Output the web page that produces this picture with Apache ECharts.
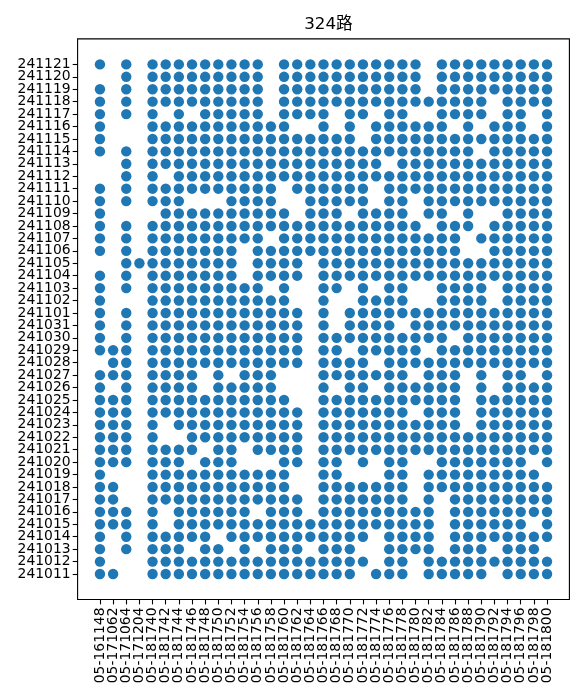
<!DOCTYPE html>
<html><head><meta charset="utf-8">
<script src="https://cdn.jsdelivr.net/npm/echarts@6/dist/echarts.min.js"></script>
<style>html,body{margin:0;padding:0;background:#fff}#c{width:583px;height:700px}</style>
</head><body><div id="c"></div>
<script>
const xLabels = ['05-161148','05-171062','05-171064','05-171204','05-181740','05-181742','05-181744','05-181746','05-181748','05-181750','05-181752','05-181754','05-181756','05-181758','05-181760','05-181762','05-181764','05-181766','05-181768','05-181770','05-181772','05-181774','05-181776','05-181778','05-181780','05-181782','05-181784','05-181786','05-181788','05-181790','05-181792','05-181794','05-181796','05-181798','05-181800'];
const yLabels = ['241011','241012','241013','241014','241015','241016','241017','241018','241019','241020','241021','241022','241023','241024','241025','241026','241027','241028','241029','241030','241031','241101','241102','241103','241104','241105','241106','241107','241108','241109','241110','241111','241112','241113','241114','241115','241116','241117','241118','241119','241120','241121'];
// one string per date (same order as yLabels), one character per vehicle (same order as xLabels); '1' = record present
const presence = [
  '11001111111111111111011101111101111', // 241011
  '10001111111111111111101101111111111', // 241012
  '10101110110101110111001111011101110', // 241013
  '10101111101111111111101111011111111', // 241014
  '11101011111111111111111111011111101', // 241015
  '11101011111101110111111111011111111', // 241016
  '11001111111111110111111101011111111', // 241017
  '11001111111111100111111101111111111', // 241018
  '10001111111111100110001101111111110', // 241019
  '11101110111000110110101100111111101', // 241020
  '11101111011011110111111111111111111', // 241021
  '11101001111111110111111111111111111', // 241022
  '11101011111111110111111111110111111', // 241023
  '11101111111111110111111101110111111', // 241024
  '11101111111111100111111111110111111', // 241025
  '10101111011111000101101111110101111', // 241026
  '11101111010111000111111101110101101', // 241027
  '01101111111111110111101111111111111', // 241028
  '11101111111111110110111110111111111', // 241029
  '10101111111111110111111111101111111', // 241030
  '10101111111111110101111011111111111', // 241031
  '10101111111111110101111111111111111', // 241101
  '10001111111111100100111100111101111', // 241102
  '10101111111110100110101100111101111', // 241103
  '10101111111011110111111111111111111', // 241104
  '00111111111011110111111111111111111', // 241105
  '10101111111011111111111111110011111', // 241106
  '10101111111110111111111111110111111', // 241107
  '10101111111111111111111110111011111', // 241108
  '10000111111111101110111101101001111', // 241109
  '10101110001111001111101101111111111', // 241110
  '10101111111111011111101111111111111', // 241111
  '00101011111111111111111111111111111', // 241112
  '00101111111111111111110111111111111', // 241113
  '10101111111111111111111111111011111', // 241114
  '10001111111111111111011111111111111', // 241115
  '10001111111111100101011111101011101', // 241116
  '10101010111110111101101100111101101', // 241117
  '10101111111110111111111111111101111', // 241118
  '10101111111110111111111110111111111', // 241119
  '00101111111110111111111110111111111', // 241120
  '10101111111110111111111110111111111'  // 241121
];
const titleText = '324路';

const points = [];
presence.forEach((row, yi) => {
  for (let xi = 0; xi < row.length; xi++) if (row[xi] === '1') points.push([xi, yi]);
});

// frame (axes box) and inner plotting band (matplotlib-like 5% margins)
const W = 583, H = 700;
const box = {left: 77.6, right: 569.4, top: 38.9, bottom: 599.5};
const nx = xLabels.length, ny = yLabels.length;
const ux = (box.right - box.left) / (nx - 1 + 2 * 0.05 * (nx - 1));
const uy = (box.bottom - box.top) / (ny - 1 + 2 * 0.05 * (ny - 1));
const mx = 0.05 * (nx - 1) * ux - 0.5 * ux; // inset of category band from box
const my = 0.05 * (ny - 1) * uy - 0.5 * uy;

const FONT = 'DejaVu Sans';
const chart = echarts.init(document.getElementById('c'), null, {renderer: 'canvas'});
chart.setOption({
  animation: false,
  title: {
    text: titleText, left: (box.left + box.right) / 2, textAlign: 'center', top: 11,
    textStyle: {fontFamily: 'DejaVu Sans, "Noto Sans CJK SC"', fontSize: 16.7, fontWeight: 'normal', color: '#000'}
  },
  grid: [
    {left: box.left + mx, right: W - box.right + mx, top: box.top + my, bottom: H - box.bottom + my, containLabel: false},
    {left: box.left, right: W - box.right, top: box.top, bottom: H - box.bottom, show: true, borderColor: '#000', borderWidth: 1.1, containLabel: false, z: 0}
  ],
  xAxis: [{
    type: 'category', data: xLabels, gridIndex: 0, boundaryGap: true, offset: my,
    axisLine: {show: false},
    splitLine: {show: false},
    axisTick: {show: true, alignWithLabel: true, interval: 0, length: 4.9, lineStyle: {color: '#000', width: 1.1}},
    axisLabel: {interval: 0, rotate: 90, margin: 8, fontFamily: FONT, fontSize: 13.9, color: '#000'}
  }, {type: 'value', gridIndex: 1, show: false}],
  yAxis: [{
    type: 'category', data: yLabels, gridIndex: 0, boundaryGap: true, offset: mx,
    axisLine: {show: false},
    splitLine: {show: false},
    axisTick: {show: true, alignWithLabel: true, interval: 0, length: 4.9, lineStyle: {color: '#000', width: 1.1}},
    axisLabel: {interval: 0, margin: 7, fontFamily: FONT, fontSize: 13.9, color: '#000'}
  }, {type: 'value', gridIndex: 1, show: false}],
  series: [{
    type: 'scatter', xAxisIndex: 0, yAxisIndex: 0, data: points, symbol: 'circle', symbolSize: 10.4,
    itemStyle: {color: '#1f77b4', opacity: 1}, emphasis: {disabled: true}
  }]
});
</script>
</body></html>
